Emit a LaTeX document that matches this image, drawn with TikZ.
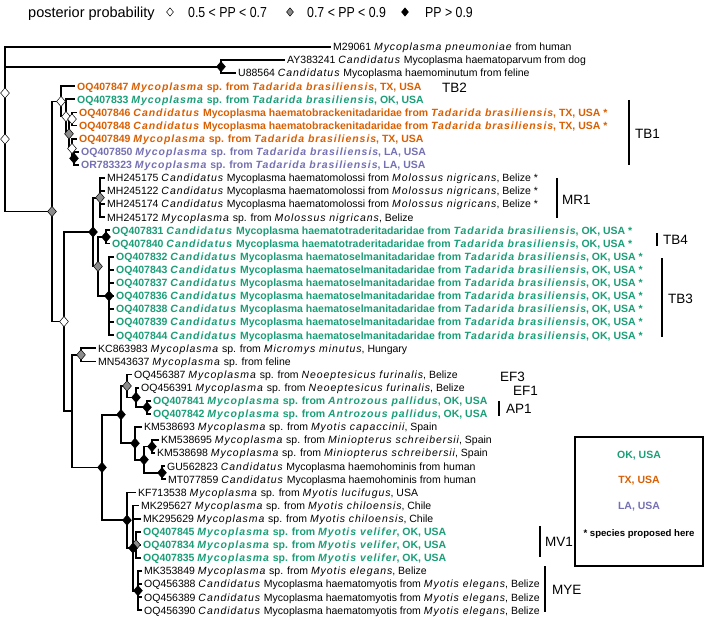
\documentclass[tikz,border=0pt]{standalone}
\usepackage{fontspec}
\setmainfont{Liberation Sans}
\newfontfamily\legn{Liberation Sans}[FakeStretch=0.85]
\usetikzlibrary{shapes.geometric}
\definecolor{okc}{HTML}{1B9E77}
\definecolor{txc}{HTML}{D95F02}
\definecolor{lac}{HTML}{7570B3}
\newcommand\ti[1]{\textit{\addfontfeature{LetterSpace=9}#1}}
\newcommand\CM{\ti{Candidatus} Mycoplasma}
\newcommand\Msp{\ti{Mycoplasma} sp. from}
\newcommand\Tb{\ti{Tadarida brasiliensis}}
\newcommand\kid[2]{\draw[br] (#1 |- #2) -- (#2);}
\newcommand\vlink[3]{\draw[br] (#1 |- #2) -- (#1 |- #3);}
\newcommand\lab[3]{\node[lab,text=#2] (L#1) at (t#1) {#3};}
\tikzset{
 br/.style={line width=1.8pt, line cap=rect},
 pp/.style={diamond, draw=black, line width=0.5pt, inner sep=0pt, minimum width=9pt, minimum height=10.5pt},
 ppw/.style={pp, fill=white},
 ppg/.style={pp, fill=black!45},
 ppb/.style={pp, fill=black},
 lpp/.style={minimum width=7pt, minimum height=8.5pt},
 lab/.style={anchor=base west, inner sep=0pt, xshift=3pt, yshift=-3.8pt, font=\fontsize{10.5}{12}\selectfont},
 blab/.style={lab, font=\fontsize{10.5}{12}\selectfont\bfseries},
 clade/.style={anchor=base west, inner sep=0pt, yshift=-4.8pt, font=\fontsize{13.5}{14}\selectfont},
 leg/.style={anchor=base west, inner sep=0pt, yshift=-5.2pt, font=\fontsize{14.5}{16}\selectfont},
 legn/.style={leg, font=\fontsize{14.5}{16}\legn},
 bar/.style={line width=1.5pt},
 keyt/.style={font=\fontsize{10.5}{12}\selectfont\bfseries},
}
\begin{document}
\begin{tikzpicture}[x=1pt,y=-1pt]
\useasboundingbox (0,0) rectangle (706,620);
% tips
\coordinate (t1) at (330,47.0);
\coordinate (t2) at (284,60.1);
\coordinate (t3) at (235,73.2);
\coordinate (t4) at (74,86.3);
\coordinate (t5) at (74,99.4);
\coordinate (t6) at (76,112.5);
\coordinate (t7) at (76,125.6);
\coordinate (t8) at (76,138.7);
\coordinate (t9) at (78,151.8);
\coordinate (t10) at (78,164.9);
\coordinate (t11) at (104,178.0);
\coordinate (t12) at (104,191.1);
\coordinate (t13) at (104,204.2);
\coordinate (t14) at (104,217.3);
\coordinate (t15) at (109,230.4);
\coordinate (t16) at (109,243.5);
\coordinate (t17) at (113,256.6);
\coordinate (t18) at (113,269.7);
\coordinate (t19) at (113,282.8);
\coordinate (t20) at (113,295.9);
\coordinate (t21) at (113,309.0);
\coordinate (t22) at (113,322.1);
\coordinate (t23) at (113,335.2);
\coordinate (t24) at (95,348.3);
\coordinate (t25) at (95,361.4);
\coordinate (t26) at (131,374.5);
\coordinate (t27) at (138,387.6);
\coordinate (t28) at (150,400.7);
\coordinate (t29) at (150,413.8);
\coordinate (t30) at (141,426.9);
\coordinate (t31) at (158,440.0);
\coordinate (t32) at (154,453.1);
\coordinate (t33) at (164,466.2);
\coordinate (t34) at (165,479.3);
\coordinate (t35) at (135,492.4);
\coordinate (t36) at (138,505.5);
\coordinate (t37) at (140,518.6);
\coordinate (t38) at (140,531.7);
\coordinate (t39) at (140,544.8);
\coordinate (t40) at (140,557.9);
\coordinate (t41) at (141,571.0);
\coordinate (t42) at (141,584.1);
\coordinate (t43) at (141,597.2);
\coordinate (t44) at (141,610.3);
% internal nodes
\coordinate (R) at (5,93.05);
\coordinate (X) at (5,139.1);
\coordinate (AU) at (221,66.65);
\coordinate (B0) at (52,211.5);
\coordinate (T0) at (61,101.45);
\coordinate (T1) at (66,116.6);
\coordinate (T2) at (69,133.8);
\coordinate (T3) at (72,119.05);
\coordinate (T4) at (72,148.5);
\coordinate (T5) at (74,158.35);
\coordinate (V0) at (64,321.55);
\coordinate (U0) at (93,232.0);
\coordinate (MR) at (100,197.65);
\coordinate (U1) at (98,266.4);
\coordinate (TBf) at (106,236.95);
\coordinate (TBt) at (109,295.9);
\coordinate (L0) at (72,411.1);
\coordinate (KM) at (81,354.85);
\coordinate (D0) at (102,467.4);
\coordinate (E0) at (121,414.6);
\coordinate (N0) at (127,385.95);
\coordinate (N1) at (136,397.4);
\coordinate (A1) at (147,407.25);
\coordinate (K3) at (135,443.3);
\coordinate (K2) at (144,459.65);
\coordinate (K1) at (152,446.55);
\coordinate (G1) at (162,472.75);
\coordinate (M0) at (127,520.2);
\coordinate (M1) at (133,548.1);
\coordinate (MV) at (136,544.8);
\coordinate (MY) at (138,590.65);
% branches
\vlink{R}{t1}{X} \kid{R}{t1}
\vlink{X}{AU}{B0} \kid{X}{AU} \kid{X}{B0}
\vlink{AU}{t2}{t3} \kid{AU}{t2} \kid{AU}{t3}
\vlink{B0}{T0}{V0} \kid{B0}{T0} \kid{B0}{V0}
\vlink{T0}{t4}{T1} \kid{T0}{t4} \kid{T0}{T1}
\vlink{T1}{t5}{T2} \kid{T1}{t5} \kid{T1}{T2}
\vlink{T2}{T3}{T4} \kid{T2}{T3} \kid{T2}{T4}
\vlink{T3}{t6}{t7} \kid{T3}{t6} \kid{T3}{t7}
\vlink{T4}{t8}{T5} \kid{T4}{t8} \kid{T4}{T5}
\vlink{T5}{t9}{t10} \kid{T5}{t9} \kid{T5}{t10}
\vlink{V0}{U0}{L0} \kid{V0}{U0} \kid{V0}{L0}
\vlink{U0}{MR}{U1} \kid{U0}{MR} \kid{U0}{U1}
\vlink{MR}{t11}{t14} \foreach \i in {11,...,14} {\kid{MR}{t\i}}
\vlink{U1}{TBf}{TBt} \kid{U1}{TBf} \kid{U1}{TBt}
\vlink{TBf}{t15}{t16} \kid{TBf}{t15} \kid{TBf}{t16}
\vlink{TBt}{t17}{t23} \foreach \i in {17,...,23} {\kid{TBt}{t\i}}
\vlink{L0}{KM}{D0} \kid{L0}{KM} \kid{L0}{D0}
\vlink{KM}{t24}{t25} \kid{KM}{t24} \kid{KM}{t25}
\vlink{D0}{E0}{M0} \kid{D0}{E0} \kid{D0}{M0}
\vlink{E0}{N0}{K3} \kid{E0}{N0} \kid{E0}{K3}
\vlink{N0}{t26}{N1} \kid{N0}{t26} \kid{N0}{N1}
\vlink{N1}{t27}{A1} \kid{N1}{t27} \kid{N1}{A1}
\vlink{A1}{t28}{t29} \kid{A1}{t28} \kid{A1}{t29}
\vlink{K3}{t30}{K2} \kid{K3}{t30} \kid{K3}{K2}
\vlink{K2}{K1}{G1} \kid{K2}{K1} \kid{K2}{G1}
\vlink{K1}{t31}{t32} \kid{K1}{t31} \kid{K1}{t32}
\vlink{G1}{t33}{t34} \kid{G1}{t33} \kid{G1}{t34}
\vlink{M0}{t35}{M1} \kid{M0}{t35} \kid{M0}{M1}
\vlink{M1}{t36}{MY} \kid{M1}{t36} \kid{M1}{t37} \kid{M1}{MV} \kid{M1}{MY}
\vlink{MV}{t38}{t40} \foreach \i in {38,39,40} {\kid{MV}{t\i}}
\vlink{MY}{t41}{t44} \foreach \i in {41,...,44} {\kid{MY}{t\i}}
% posterior diamonds
\foreach \n in {R,X,T0,T1,T3,T4,V0} {\node[ppw] (d\n) at (\n) {};}
\foreach \n in {B0,T2,MR,U1,KM,N0,MV} {\node[ppg] (d\n) at (\n) {};}
\foreach \n in {AU,T5,U0,TBf,TBt,N1,A1,E0,K3,K2,K1,G1,D0,M0,M1,MY} {\node[ppb] (d\n) at (\n) {};}
% labels
\lab{1}{black}{M29061 \ti{Mycoplasma pneumoniae} from human}
\lab{2}{black}{AY383241 \CM{} haematoparvum from dog}
\lab{3}{black}{U88564 \CM{} haemominutum from feline}
\node[blab,text=txc] (L4) at (t4) {OQ407847 \Msp{} \Tb, TX, USA};
\node[blab,text=okc] (L5) at (t5) {OQ407833 \Msp{} \Tb, OK, USA};
\node[blab,text=txc] (L6) at (t6) {OQ407846 \CM{} haematobrackenitadaridae from \Tb, TX, USA *};
\node[blab,text=txc] (L7) at (t7) {OQ407848 \CM{} haematobrackenitadaridae from \Tb, TX, USA *};
\node[blab,text=txc] (L8) at (t8) {OQ407849 \Msp{} \Tb, TX, USA};
\node[blab,text=lac] (L9) at (t9) {OQ407850 \Msp{} \Tb, LA, USA};
\node[blab,text=lac] (L10) at (t10) {OR783323 \Msp{} \Tb, LA, USA};
\lab{11}{black}{MH245175 \CM{} haematomolossi from \ti{Molossus nigricans}, Belize *}
\lab{12}{black}{MH245122 \CM{} haematomolossi from \ti{Molossus nigricans}, Belize *}
\lab{13}{black}{MH245174 \CM{} haematomolossi from \ti{Molossus nigricans}, Belize *}
\lab{14}{black}{MH245172 \Msp{} \ti{Molossus nigricans}, Belize}
\node[blab,text=okc] (L15) at (t15) {OQ407831 \CM{} haematotraderitadaridae from \Tb, OK, USA *};
\node[blab,text=okc] (L16) at (t16) {OQ407840 \CM{} haematotraderitadaridae from \Tb, OK, USA *};
\node[blab,text=okc] (L17) at (t17) {OQ407832 \CM{} haematoselmanitadaridae from \Tb, OK, USA *};
\node[blab,text=okc] (L18) at (t18) {OQ407843 \CM{} haematoselmanitadaridae from \Tb, OK, USA *};
\node[blab,text=okc] (L19) at (t19) {OQ407837 \CM{} haematoselmanitadaridae from \Tb, OK, USA *};
\node[blab,text=okc] (L20) at (t20) {OQ407836 \CM{} haematoselmanitadaridae from \Tb, OK, USA *};
\node[blab,text=okc] (L21) at (t21) {OQ407838 \CM{} haematoselmanitadaridae from \Tb, OK, USA *};
\node[blab,text=okc] (L22) at (t22) {OQ407839 \CM{} haematoselmanitadaridae from \Tb, OK, USA *};
\node[blab,text=okc] (L23) at (t23) {OQ407844 \CM{} haematoselmanitadaridae from \Tb, OK, USA *};
\lab{24}{black}{KC863983 \Msp{} \ti{Micromys minutus}, Hungary}
\lab{25}{black}{MN543637 \Msp{} feline}
\lab{26}{black}{OQ456387 \Msp{} \ti{Neoeptesicus furinalis}, Belize}
\lab{27}{black}{OQ456391 \Msp{} \ti{Neoeptesicus furinalis}, Belize}
\node[blab,text=okc] (L28) at (t28) {OQ407841 \Msp{} \ti{Antrozous pallidus}, OK, USA};
\node[blab,text=okc] (L29) at (t29) {OQ407842 \Msp{} \ti{Antrozous pallidus}, OK, USA};
\lab{30}{black}{KM538693 \Msp{} \ti{Myotis capaccinii}, Spain}
\lab{31}{black}{KM538695 \Msp{} \ti{Miniopterus schreibersii}, Spain}
\lab{32}{black}{KM538698 \Msp{} \ti{Miniopterus schreibersii}, Spain}
\lab{33}{black}{GU562823 \CM{} haemohominis from human}
\lab{34}{black}{MT077859 \CM{} haemohominis from human}
\lab{35}{black}{KF713538 \Msp{} \ti{Myotis lucifugus}, USA}
\lab{36}{black}{MK295627 \Msp{} \ti{Myotis chiloensis}, Chile}
\lab{37}{black}{MK295629 \Msp{} \ti{Myotis chiloensis}, Chile}
\node[blab,text=okc] (L38) at (t38) {OQ407845 \Msp{} \ti{Myotis velifer}, OK, USA};
\node[blab,text=okc] (L39) at (t39) {OQ407834 \Msp{} \ti{Myotis velifer}, OK, USA};
\node[blab,text=okc] (L40) at (t40) {OQ407835 \Msp{} \ti{Myotis velifer}, OK, USA};
\lab{41}{black}{MK353849 \Msp{} \ti{Myotis elegans}, Belize}
\lab{42}{black}{OQ456388 \CM{} haematomyotis from \ti{Myotis elegans}, Belize}
\lab{43}{black}{OQ456389 \CM{} haematomyotis from \ti{Myotis elegans}, Belize}
\lab{44}{black}{OQ456390 \CM{} haematomyotis from \ti{Myotis elegans}, Belize}
% clade bars and labels
\coordinate (b1a) at (629,100); \coordinate (b1b) at (629,165); \draw[bar] (b1a) -- (b1b);
\coordinate (b2a) at (557,178); \coordinate (b2b) at (557,218); \draw[bar] (b2a) -- (b2b);
\coordinate (b3a) at (657,233); \coordinate (b3b) at (657,246); \draw[bar] (b3a) -- (b3b);
\coordinate (b4a) at (662,258); \coordinate (b4b) at (662,337); \draw[bar] (b4a) -- (b4b);
\coordinate (b5a) at (499,401); \coordinate (b5b) at (499,416); \draw[bar] (b5a) -- (b5b);
\coordinate (b6a) at (540,526); \coordinate (b6b) at (540,557); \draw[bar] (b6a) -- (b6b);
\coordinate (b7a) at (545,566); \coordinate (b7b) at (545,612); \draw[bar] (b7a) -- (b7b);
\node[clade] (cTB2) at (442,88) {TB2};
\node[clade] (cTB1) at (635,134) {TB1};
\node[clade] (cMR1) at (562,200) {MR1};
\node[clade] (cTB4) at (663,240) {TB4};
\node[clade] (cTB3) at (668,299) {TB3};
\node[clade] (cEF3) at (500,377) {EF3};
\node[clade] (cEF1) at (513,391) {EF1};
\node[clade] (cAP1) at (506,409) {AP1};
\node[clade] (cMV1) at (545,542) {MV1};
\node[clade] (cMYE) at (552,590) {MYE};
% top legend
\node[leg] (lgt) at (28,12) {posterior probability};
\node[ppw,lpp] (lgw) at (170,12) {};
\node[legn] (lg1) at (188,12) {0.5 < PP < 0.7};
\node[ppg,lpp] (lgg) at (290,12) {};
\node[legn] (lg2) at (307,12) {0.7 < PP < 0.9};
\node[ppb,lpp] (lgb) at (405,12) {};
\node[legn] (lg3) at (425,12) {PP > 0.9};
% colour key
\node[draw=black, line width=1.5pt, minimum width=128pt, minimum height=129pt, inner sep=0pt] (key) at (639,501.5) {};
\node[keyt, text=okc] (kOK) at (639,456) {OK, USA};
\node[keyt, text=txc] (kTX) at (639,481) {TX, USA};
\node[keyt, text=lac] (kLA) at (639,507) {LA, USA};
\node[keyt, font=\fontsize{9.6}{12}\selectfont\bfseries] (kSP) at (639,534) {* species proposed here};
\end{tikzpicture}
\end{document}
